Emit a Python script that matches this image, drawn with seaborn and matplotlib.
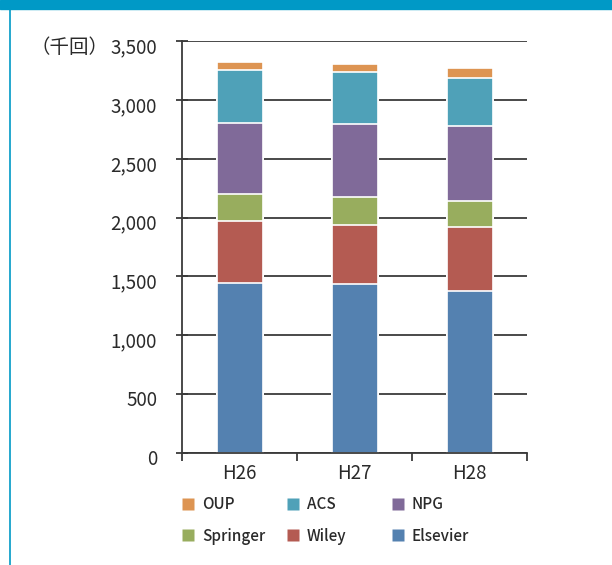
import matplotlib
matplotlib.use("Agg")
import matplotlib.pyplot as plt
import seaborn as sns
import pandas as pd
import numpy as np
from matplotlib.lines import Line2D
from matplotlib.ticker import FuncFormatter, FixedLocator
from matplotlib.transforms import blended_transform_factory, ScaledTranslation

years = ["H26", "H27", "H28"]
publishers = ["Elsevier", "Wiley", "Springer", "NPG", "ACS", "OUP"]  # bottom -> top
elsevier = [1444, 1438, 1373]
wiley = [525, 497, 545]
springer = [235, 239, 227]
npg = [603, 622, 633]
acs = [443, 439, 409]
oup = [74, 66, 82]
colors = ["#5481b0", "#b45b52", "#98ad5e", "#806a99", "#4fa1b8", "#dd9452"]
yticks = [0, 500, 1000, 1500, 2000, 2500, 3000, 3500]
unit_label = "（千回）"

sns.set_theme(style="white")
plt.rcParams["font.family"] = ["Noto Sans CJK JP", "DejaVu Sans"]

series = [elsevier, wiley, springer, npg, acs, oup]
df = pd.DataFrame({"year": years})
cum = np.zeros(len(years))
for name, vals in zip(publishers, series):
    cum = cum + np.array(vals)
    df[name] = cum

W, H = 612, 565
fig = plt.figure(figsize=(W / 100, H / 100), dpi=100)
ax = fig.add_axes([182 / W, 1 - 453 / H, (527 - 182) / W, (453 - 41) / H])

dark = "#3a3a3a"
txt = "#2a2a2a"
for name, col in reversed(list(zip(publishers, colors))):
    sns.barplot(data=df, x="year", y=name, color=col, width=0.4,
                edgecolor="white", linewidth=1.2, errorbar=None, ax=ax,
                saturation=1, zorder=2)

ax.set_xlim(-0.5, 2.5)
ax.set_ylim(0, 3500)
ax.set_xlabel("")
ax.set_ylabel("")
ax.yaxis.set_major_locator(FixedLocator(yticks))
ax.yaxis.set_major_formatter(FuncFormatter(lambda v, p: f"{int(v):,}"))
ax.grid(axis="y", color=dark, linewidth=1.3, zorder=0)
ax.set_axisbelow(True)
for s in ["top", "right"]:
    ax.spines[s].set_visible(False)
for s in ["left", "bottom"]:
    ax.spines[s].set_color(dark)
    ax.spines[s].set_linewidth(1.3)

ax.tick_params(axis="y", which="major", left=True, length=8, width=1.3,
               direction="inout", color=dark, pad=14, labelsize=13.5,
               labelcolor=txt)
ax.tick_params(axis="x", which="major", bottom=False, length=0, pad=7,
               labelsize=13.5, labelcolor=txt)
ax.set_xticks([-0.5, 0.5, 1.5, 2.5], minor=True)
ax.tick_params(axis="x", which="minor", bottom=True, length=6, width=1.3,
               color=dark, direction="out")

shift = ScaledTranslation(0, -3 / 72, fig.dpi_scale_trans)
for lab in ax.get_yticklabels():
    lab.set_transform(lab.get_transform() + shift)

tr = blended_transform_factory(fig.transFigure, ax.transData)
ax.text(31 / W, 3500, unit_label, transform=tr + shift, ha="left",
        va="center_baseline", fontsize=14, color=txt)

# legends: three columns of two entries
cols_x = [182, 287, 392]
groups = [("OUP", "Springer"), ("ACS", "Wiley"), ("NPG", "Elsevier")]
cmap = dict(zip(publishers, colors))
for x0, grp in zip(cols_x, groups):
    handles = [Line2D([], [], marker="s", linestyle="none", markersize=9,
                      markerfacecolor=cmap[g], markeredgecolor="none") for g in grp]
    leg = fig.legend(handles, grp, loc="upper left",
                     bbox_to_anchor=(x0 / W, 1 - 496 / H), frameon=False,
                     borderpad=0, borderaxespad=0, handlelength=0.85,
                     handletextpad=0.45, labelspacing=0.95,
                     prop={"size": 11, "weight": "medium"})
    for t in leg.get_texts():
        t.set_color(txt)

# page decoration: blue top band and left border
blue = "#0099c6"
fig.patches.append(plt.Rectangle((0, 1 - 9 / H), 1, 9 / H, transform=fig.transFigure,
                                 color=blue, zorder=10))
fig.lines.append(Line2D([9.5 / W, 9.5 / W], [0, 1], transform=fig.transFigure,
                        color=blue, linewidth=1.2))

fig.savefig("out.png", dpi=100)
